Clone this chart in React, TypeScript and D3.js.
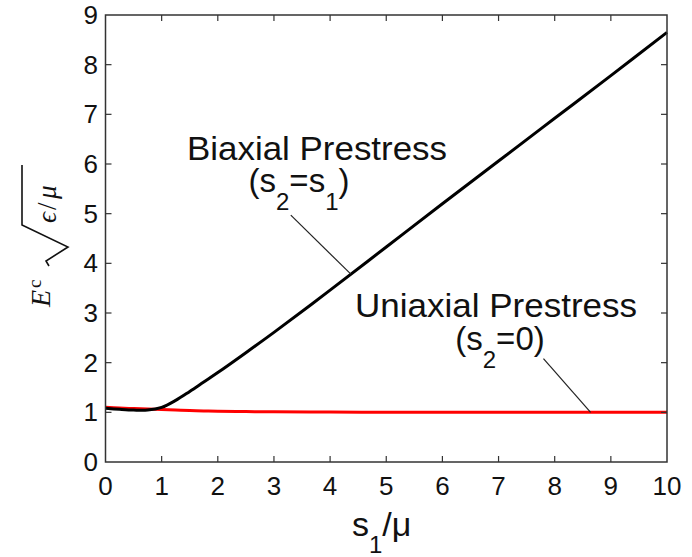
import * as d3 from "d3";

// s1/mu values where the curves were read
const sValues = [0, 0.25, 0.5, 0.75, 1, 1.25, 1.5, 1.75, 2, 2.5, 3, 4, 5, 6, 7, 8, 9, 10];
// Biaxial prestress (s2 = s1), black
const biaxial = [1.08, 1.06, 1.045, 1.045, 1.1, 1.24, 1.42, 1.61, 1.8, 2.2, 2.61, 3.46, 4.33, 5.2, 6.06, 6.92, 7.78, 8.65];
// Uniaxial prestress (s2 = 0), red
const uniaxial = [1.1, 1.085, 1.075, 1.065, 1.055, 1.045, 1.035, 1.028, 1.022, 1.015, 1.01, 1.005, 1.0, 1.0, 1.0, 1.0, 1.0, 1.0];

const xTicks = [0, 1, 2, 3, 4, 5, 6, 7, 8, 9, 10];
const yTicks = [0, 1, 2, 3, 4, 5, 6, 7, 8, 9];

const W = 692;
const H = 557;
const left = 105.5, right = 667, top = 15, bottom = 462;

export default function App() {
  const x = d3.scaleLinear([0, 10], [left, right]);
  const y = d3.scaleLinear([0, 9], [bottom, top]);

  const line = d3.line<number>()
    .x((_, i) => x(sValues[i]))
    .y(d => y(d))
    .curve(d3.curveCatmullRom.alpha(0.5));

  const biaxAt = (s: number) => {
    const i = d3.bisectRight(sValues, s) - 1;
    const t = (s - sValues[i]) / (sValues[i + 1] - sValues[i]);
    return biaxial[i] + t * (biaxial[i + 1] - biaxial[i]);
  };

  const font = "Arial, 'Liberation Sans', sans-serif";
  const serif = "'Liberation Serif', 'Times New Roman', serif";
  const axisColor = "#333";
  const tick = 6;

  // leader lines (data coordinates)
  const biaxStart = [3.3, 4.97];
  const biaxEnd = [4.37, biaxAt(4.37)];
  const uniStart = [7.8, 2.08];
  const uniEnd = [8.64, 1.0];

  return (
    <>
      <style>{"body{margin:0}"}</style>
      <svg width={W} height={H} viewBox={`0 0 ${W} ${H}`} style={{ display: "block", background: "#fff" }}>
        {/* curves */}
        <path d={line(uniaxial) ?? ""} fill="none" stroke="#ff0000" strokeWidth={3} />
        <path d={line(biaxial) ?? ""} fill="none" stroke="#000" strokeWidth={3} />

        {/* box */}
        <rect x={left} y={top} width={right - left} height={bottom - top} fill="none" stroke={axisColor} strokeWidth={1.5} />

        {/* x ticks */}
        {xTicks.map(t => (
          <g key={"x" + t}>
            {t > 0 && t < 10 && (
              <>
                <line x1={x(t)} x2={x(t)} y1={bottom} y2={bottom - tick} stroke={axisColor} strokeWidth={1.2} />
                <line x1={x(t)} x2={x(t)} y1={top} y2={top + tick} stroke={axisColor} strokeWidth={1.2} />
              </>
            )}
            <text x={x(t)} y={495} textAnchor="middle" fontFamily={font} fontSize={26} fill="#111">{t}</text>
          </g>
        ))}

        {/* y ticks */}
        {yTicks.map(t => (
          <g key={"y" + t}>
            {t > 0 && t < 9 && (
              <>
                <line x1={left} x2={left + tick} y1={y(t)} y2={y(t)} stroke={axisColor} strokeWidth={1.2} />
                <line x1={right} x2={right - tick} y1={y(t)} y2={y(t)} stroke={axisColor} strokeWidth={1.2} />
              </>
            )}
            <text x={98} y={y(t) + 9} textAnchor="end" fontFamily={font} fontSize={26} fill="#111">{t}</text>
          </g>
        ))}

        {/* x label */}
        <text x={352} y={536} fontFamily={font} fontSize={34} fill="#111">
          s<tspan fontSize={24} dy={17}>1</tspan><tspan dy={-17}>/μ</tspan>
        </text>

        {/* y label: E^c sqrt(eps/mu) */}
        <g transform="translate(50,307) rotate(-90)" fill="#111">
          <text x={0} y={0} fontFamily={serif} fontStyle="italic" fontSize={28}>E</text>
          <text x={19} y={-9} fontFamily={serif} fontSize={19}>c</text>
          <path d="M41,-1 L46,-4 L60,18 L82,-28 L142,-28" fill="none" stroke="#111" strokeWidth={1.6} />
          <text x={84} y={6} fontFamily={serif} fontStyle="italic" fontSize={27}>ϵ</text>
          <text x={97} y={6} fontFamily={serif} fontSize={27}>/</text>
          <text x={108} y={6} fontFamily={serif} fontStyle="italic" fontSize={27}>μ</text>
        </g>

        {/* annotations */}
        <text x={187} y={160} textLength={260} lengthAdjust="spacingAndGlyphs" fontFamily={font} fontSize={33} fill="#111">Biaxial Prestress</text>
        <text x={299} y={192} textAnchor="middle" fontFamily={font} fontSize={33} fill="#111">
          (s<tspan fontSize={24} dy={18}>2</tspan><tspan dy={-18}>=s</tspan><tspan fontSize={24} dy={18}>1</tspan><tspan dy={-18}>)</tspan>
        </text>
        <line x1={x(biaxStart[0])} y1={y(biaxStart[1])} x2={x(biaxEnd[0])} y2={y(biaxEnd[1])} stroke="#222" strokeWidth={1.2} />

        <text x={355} y={317} textLength={282} lengthAdjust="spacingAndGlyphs" fontFamily={font} fontSize={33} fill="#111">Uniaxial Prestress</text>
        <text x={500} y={350} textAnchor="middle" fontFamily={font} fontSize={33} fill="#111">
          (s<tspan fontSize={24} dy={18}>2</tspan><tspan dy={-18}>=0)</tspan>
        </text>
        <line x1={x(uniStart[0])} y1={y(uniStart[1])} x2={x(uniEnd[0])} y2={y(uniEnd[1])} stroke="#222" strokeWidth={1.2} />
      </svg>
    </>
  );
}
